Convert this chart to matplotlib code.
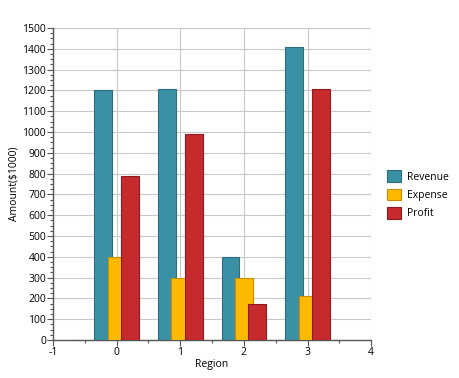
import numpy as np
import matplotlib
matplotlib.use("Agg")
import matplotlib.pyplot as plt
from matplotlib.ticker import MultipleLocator

regions = [0, 1, 2, 3]
revenue = [1200, 1205, 400, 1410]
expense = [400, 300, 300, 210]
profit = [790, 990, 175, 1205]

plt.rcParams['font.family'] = ['Open Sans', 'DejaVu Sans']
plt.rcParams['axes.unicode_minus'] = False

fig = plt.figure(figsize=(4.6, 3.78), dpi=100)
ax = fig.add_axes([0.115, 0.1005, 0.692, 0.8255])

x = np.array(regions)
w = 0.28
ax.bar(x - 0.21, revenue, w, color="#3A90A5", edgecolor="#2A6E7E", linewidth=0.8, label="Revenue", zorder=3)
ax.bar(x, expense, w, color="#FFB901", edgecolor="#C98F00", linewidth=0.8, label="Expense", zorder=4)
ax.bar(x + 0.21, profit, w, color="#C62A2D", edgecolor="#8E1C1F", linewidth=0.8, label="Profit", zorder=5)

ax.set_xlim(-1, 4)
ax.set_ylim(0, 1500)
ax.set_xticks(range(-1, 5))
ax.set_yticks(range(0, 1501, 100))
ax.xaxis.set_minor_locator(MultipleLocator(0.5))
ax.yaxis.set_minor_locator(MultipleLocator(25))
ax.grid(True, which="major", color="#C8C8C8", linewidth=0.8, zorder=0)
ax.set_axisbelow(True)

for s in ["top", "right"]:
    ax.spines[s].set_visible(False)
for s in ["left", "bottom"]:
    ax.spines[s].set_color("#555555")
    ax.spines[s].set_linewidth(1.0)

ax.tick_params(which="major", length=4, width=0.8, color="#555555", labelsize=7.5, pad=1)
ax.tick_params(which="minor", length=2, width=0.8, color="#555555")
ax.set_xlabel("Region", fontsize=7.5, labelpad=1)
ax.set_ylabel("Amount($1000)", fontsize=7.5, labelpad=2)

ax.legend(loc="center left", bbox_to_anchor=(1.02, 0.465), frameon=False, fontsize=7.5,
          handlelength=1.3, handleheight=1.3, handletextpad=0.6, labelspacing=0.6)

plt.savefig("out.png", dpi=100)
